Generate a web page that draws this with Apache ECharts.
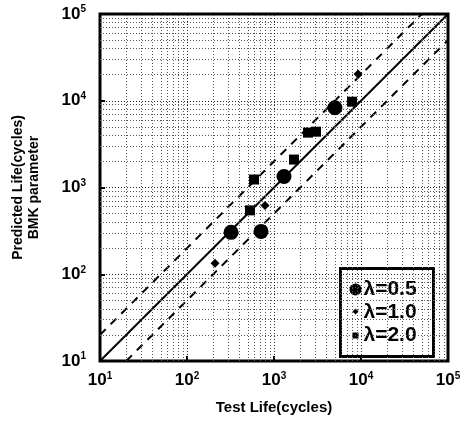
<!DOCTYPE html>
<html>
<head>
<meta charset="utf-8">
<script src="https://cdn.jsdelivr.net/npm/echarts@6/dist/echarts.min.js"></script>
<style>
  html, body { margin: 0; padding: 0; background: #fff; }
  #chart { width: 471px; height: 422px; }
</style>
</head>
<body>
<div id="chart"></div>
<script>
// test life vs predicted life
const lambda05 = [[321, 304], [709, 312], [1303, 1337], [5020, 8320]];
const lambda10 = [[210, 134], [788, 621], [9250, 20400]];
const lambda20 = [[530, 545], [589, 1236], [1698, 2099], [2460, 4290], [3040, 4400], [7890, 9750]];
const legendNames = ['λ=0.5', 'λ=1.0', 'λ=2.0'];
const axisMin = 10;
const axisMax = 100000;
const bandFactor = 2;

// minor grid values 20..90, 200..900, ...
const minorVals = [];
[10, 100, 1000, 10000].forEach(d => {
  for (let m = 2; m <= 9; m++) minorVals.push(m * d);
});
const majorVals = [100, 1000, 10000];

const font = 'Liberation Sans, Arial, sans-serif';

const powLabel = v => '{b|10}{s|' + Math.round(Math.log10(v)) + '}';
const labelRich = {
  b: { fontSize: 17, fontWeight: 'bold', color: '#000', fontFamily: font },
  s: { fontSize: 10, fontWeight: 'bold', color: '#000', fontFamily: font, verticalAlign: 'top', padding: [0, 0, 9, 0] },
};

const chart = echarts.init(document.getElementById('chart'));

const gridLines = [];
minorVals.forEach(v => { gridLines.push({ xAxis: v }); gridLines.push({ yAxis: v }); });
majorVals.forEach(v => {
  gridLines.push({ xAxis: v, lineStyle: { color: '#222' } });
  gridLines.push({ yAxis: v, lineStyle: { color: '#222' } });
});

chart.setOption({
  animation: false,
  backgroundColor: '#fff',
  grid: {
    left: 100, top: 14, width: 348, height: 347,
    show: true, borderColor: '#000', borderWidth: 3, backgroundColor: 'transparent',
  },
  xAxis: {
    type: 'log', logBase: 10, min: axisMin, max: axisMax,
    name: 'Test Life(cycles)', nameLocation: 'middle', nameGap: 39,
    nameTextStyle: { fontSize: 15, fontWeight: 'bold', color: '#000', fontFamily: font },
    axisLine: { show: false },
    axisTick: { show: true, inside: true, length: 5, lineStyle: { color: '#000', width: 2 } },
    splitLine: { show: false },
    axisLabel: { margin: 10, formatter: powLabel, rich: labelRich },
  },
  yAxis: {
    type: 'log', logBase: 10, min: axisMin, max: axisMax,
    name: 'Predicted Life(cycles)\nBMK parameter', nameLocation: 'middle', nameGap: 58, nameRotate: 90,
    nameTextStyle: { fontSize: 14, fontWeight: 'bold', color: '#000', fontFamily: font, lineHeight: 16 },
    axisLine: { show: false },
    axisTick: { show: true, inside: true, length: 5, lineStyle: { color: '#000', width: 2 } },
    splitLine: { show: false },
    axisLabel: { margin: 14, formatter: powLabel, rich: labelRich },
  },
  series: [
    {
      type: 'line', data: [], silent: true,
      markLine: {
        silent: true, symbol: 'none', animation: false,
        label: { show: false },
        lineStyle: { type: [1, 2], color: '#555', width: 1 },
        data: gridLines,
      },
    },
    {
      type: 'line', data: [[axisMin, axisMin], [axisMax, axisMax]],
      symbol: 'none', lineStyle: { color: '#000', width: 2 }, silent: true,
    },
    {
      type: 'line', data: [[axisMin, axisMin * bandFactor], [axisMax / bandFactor, axisMax]],
      symbol: 'none', lineStyle: { color: '#000', width: 2, type: [8, 7] }, silent: true,
    },
    {
      type: 'line', data: [[axisMin * bandFactor, axisMin], [axisMax, axisMax / bandFactor]],
      symbol: 'none', lineStyle: { color: '#000', width: 2, type: [8, 7] }, silent: true,
    },
    {
      name: legendNames[0], type: 'scatter', data: lambda05,
      symbol: 'circle', symbolSize: 15, itemStyle: { color: '#000', opacity: 1 }, z: 5,
    },
    {
      name: legendNames[1], type: 'scatter', data: lambda10,
      symbol: 'diamond', symbolSize: 9, itemStyle: { color: '#000', opacity: 1 }, z: 5,
    },
    {
      name: legendNames[2], type: 'scatter', data: lambda20,
      symbol: 'rect', symbolSize: 10, itemStyle: { color: '#000', opacity: 1 }, z: 5,
    },
  ],
  graphic: [
    {
      type: 'group', left: 339, top: 267, z: 100,
      children: [
        { type: 'rect', shape: { x: 0, y: 0, width: 93, height: 88 }, style: { fill: '#fff', stroke: '#000', lineWidth: 3 } },
        { type: 'circle', shape: { cx: 15, cy: 21, r: 6 }, style: { fill: '#000' } },
        { type: 'polygon', shape: { points: [[15, 40], [18, 43], [15, 46], [12, 43]] }, style: { fill: '#000' } },
        { type: 'rect', shape: { x: 12, y: 64, width: 6, height: 6 }, style: { fill: '#000' } },
        { type: 'text', x: 23, y: 21, style: { text: legendNames[0], font: 'bold 21px ' + font, fill: '#000', verticalAlign: 'middle' } },
        { type: 'text', x: 23, y: 44, style: { text: legendNames[1], font: 'bold 21px ' + font, fill: '#000', verticalAlign: 'middle' } },
        { type: 'text', x: 23, y: 67, style: { text: legendNames[2], font: 'bold 21px ' + font, fill: '#000', verticalAlign: 'middle' } },
      ],
    },
  ],
});
</script>
</body>
</html>
